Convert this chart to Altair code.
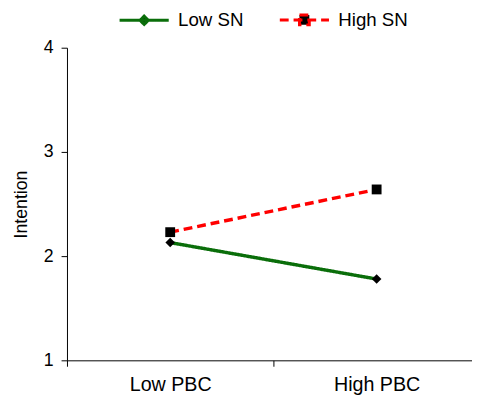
import altair as alt
import pandas as pd

pbc_levels = ["Low PBC", "High PBC"]
series_names = ["Low SN", "High SN"]
low_sn = [2.13, 1.78]
high_sn = [2.23, 2.64]
y_ticks = [1, 2, 3, 4]

rows = []
for s, vals in zip(series_names, [low_sn, high_sn]):
    for i, (lvl, v) in enumerate(zip(pbc_levels, vals)):
        rows.append({"series": s, "pbc": lvl, "idx": i + 0.5, "intention": v})
df = pd.DataFrame(rows)

colors = ["#0a6e0a", "#ff0000"]
dashes = [[1, 0], [9, 5]]
legend_shapes = [
    "M-1,0H1M-0.17,0L0,-0.17L0.17,0L0,0.17Z",
    "M-1,0H1M-0.2,-0.2H0.2V0.2H-0.2Z",
]

x_enc = alt.X(
    "idx:Q",
    scale=alt.Scale(domain=[0, 1.962], nice=False, zero=False),
    axis=alt.Axis(
        title=None, values=[0, 1], grid=False,
        labelExpr="datum.value == 0 ? 'Low PBC' : 'High PBC'",
        labelOffset=105, labelFlush=False, labelOverlap=False, labelFontSize=20,
        labelPadding=9,
    ),
)
y_enc = alt.Y(
    "intention:Q",
    scale=alt.Scale(domain=[1, 4], nice=False, zero=False),
    axis=alt.Axis(
        title="Intention", values=y_ticks, grid=False, labelFontSize=18,
        labelPadding=8, titleFontSize=18, titlePadding=13, format="d",
    ),
)

legend_def = alt.Legend(
    title=None, orient="none", legendX=52, legendY=-55, direction="horizontal",
    symbolSize=2500, symbolStrokeWidth=3,
    labelFontSize=19, labelFont="Liberation Sans", labelColor="black",
    labelOffset=8, columnPadding=30,
)
stroke_enc = alt.Stroke("series:N", scale=alt.Scale(domain=series_names, range=colors), legend=legend_def)
dash_enc = alt.StrokeDash("series:N", scale=alt.Scale(domain=series_names, range=dashes), legend=legend_def)
shape_enc = alt.Shape("series:N", scale=alt.Scale(domain=series_names, range=legend_shapes), legend=legend_def)

lines = alt.Chart(df).mark_line(strokeWidth=3.5).encode(
    x=x_enc, y=y_enc, stroke=stroke_enc, strokeDash=dash_enc, detail="series:N"
)

low_points = alt.Chart(df).transform_filter(
    alt.datum.series == series_names[0]
).mark_point(filled=True, color="black", opacity=1, shape="diamond", size=95).encode(x=x_enc, y=y_enc)

high_points = alt.Chart(df).transform_filter(
    alt.datum.series == series_names[1]
).mark_point(filled=True, color="black", opacity=1, shape="square", size=100).encode(x=x_enc, y=y_enc)

legend_layer = alt.Chart(df).mark_point(filled=True, strokeWidth=3, opacity=1).encode(
    x=x_enc, y=y_enc, stroke=stroke_enc, strokeDash=dash_enc, shape=shape_enc,
    fill=alt.value("black"),
).transform_filter("false")

chart = alt.layer(lines, low_points, high_points, legend_layer).properties(
    width=412, height=318, autosize=alt.AutoSizeParams(type="none"),
    padding={"left": 60, "top": 37, "right": 0, "bottom": 40},
).configure_view(stroke=None).configure_axis(
    labelFont="Liberation Sans", titleFont="Liberation Sans", labelColor="black",
    titleColor="black", titleFontWeight="normal", titleFontSize=18,
    tickColor="black", domainColor="black", tickSize=6,
)

chart.save("out.html", embed_options={"renderer": "svg", "actions": False})
